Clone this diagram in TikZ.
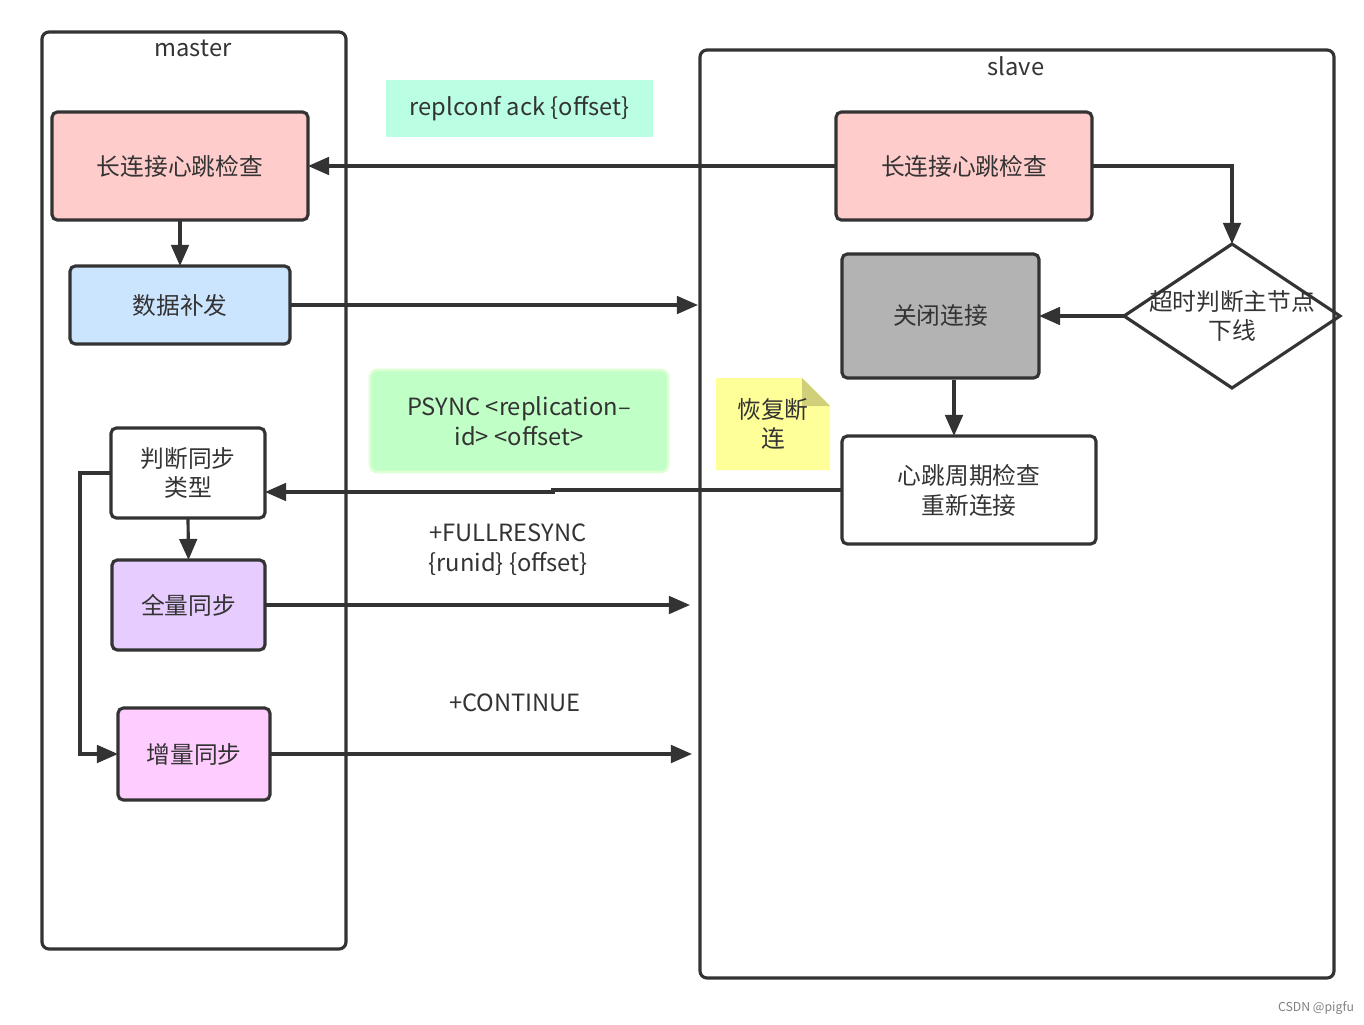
\documentclass[tikz,border=0pt]{standalone}
\usepackage{fontspec}
\setmainfont{Noto Sans CJK SC}
\usetikzlibrary{arrows.meta,shapes.geometric}
\definecolor{linegray}{HTML}{333333}
\definecolor{pinkfill}{HTML}{FFCCCC}
\definecolor{bluefill}{HTML}{CCE5FF}
\definecolor{violetfill}{HTML}{E7CCFF}
\definecolor{magentafill}{HTML}{FFCCFF}
\definecolor{grayfill}{HTML}{B3B3B3}
\definecolor{mintfill}{HTML}{BAFFE3}
\definecolor{greenfill}{HTML}{C0FFC6}
\definecolor{greenline}{HTML}{DDFFD4}
\definecolor{noteyellow}{HTML}{FFFF99}
\definecolor{notefold}{HTML}{D0D07A}

\begin{document}
\begin{tikzpicture}[x=0.02cm,y=-0.02cm,font=\fontsize{13.5}{17}\selectfont,text=linegray,
  box/.style={draw=linegray,line width=1.8pt,rounded corners=3pt,align=center,inner sep=0pt,outer sep=0pt},
  frame/.style={draw=linegray,line width=1.8pt,rounded corners=4pt},
  flow/.style={draw=linegray,line width=1.8pt,-{Triangle[length=12pt,width=10pt]}},
  tag/.style={align=center,inner sep=0pt}]

\useasboundingbox (0,0) rectangle (1364,1024);

% master side
\draw[frame] (42,32) rectangle (346,949);
\node[tag] (mname) at (193,48) {master};
\node[box,fill=pinkfill,minimum width=5.12cm,minimum height=2.16cm] (mhb) at (180,166) {长连接心跳检查};
\node[box,fill=bluefill,minimum width=4.4cm,minimum height=1.56cm] (refill) at (180,305) {数据补发};
\node[box,fill=white,minimum width=3.08cm,minimum height=1.8cm] (judge) at (188,473) {判断同步\\类型};
\node[box,fill=violetfill,minimum width=3.06cm,minimum height=1.8cm] (full) at (188.5,605) {全量同步};
\node[box,fill=magentafill,minimum width=3.04cm,minimum height=1.84cm] (incr) at (194,754) {增量同步};

% slave side
\draw[frame] (700,50) rectangle (1334,978);
\node[tag] (sname) at (1016,66) {slave};
\node[box,fill=pinkfill,minimum width=5.12cm,minimum height=2.16cm] (shb) at (964,166) {长连接心跳检查};
\node[box,fill=grayfill,minimum width=3.94cm,minimum height=2.48cm] (close) at (940.5,316) {关闭连接};
\node[draw=linegray,line width=1.8pt,diamond,inner sep=0pt,outer sep=0pt,
  minimum width=4.32cm,minimum height=2.88cm] (dia) at (1232,316) {};
\node[tag] (diatext) at (1232,316) {超时判断主节点\\下线};
\node[box,fill=white,minimum width=5.08cm,minimum height=2.16cm] (recon) at (969,490) {心跳周期检查\\重新连接};

% note
\fill[noteyellow] (716,378) -- (802,378) -- (830,406) -- (830,470) -- (716,470) -- cycle;
\fill[notefold] (802,378) -- (830,406) -- (802,406) -- cycle;
\node[tag] (note) at (773,424) {恢复断\\连};

% message labels
\node[tag,fill=mintfill,minimum width=5.34cm,minimum height=1.14cm] (ack) at (519.5,108.5) {replconf ack \{offset\}};
\node[tag,fill=greenfill,draw=greenline,line width=1.5pt,rounded corners=4pt,
  minimum width=5.96cm,minimum height=2.04cm] (psync) at (519,421) {PSYNC <replication–\\id> <offset>};
\node[tag] (fullmsg) at (508,550) {+FULLRESYNC\\\{runid\} \{offset\}};
\node[tag] (contmsg) at (515,703) {+CONTINUE};

% connectors
\coordinate (s1) at (698,305);
\coordinate (s2) at (690,604);
\coordinate (s3) at (692,754);
\coordinate (c1) at (954,380);
\coordinate (j1) at (553,490);
\draw[flow] (shb.west) -- (mhb.east);
\draw[flow] (mhb.south) -- (refill.north);
\draw[flow] (refill.east) -- (refill.east -| s1);
\draw[flow] (shb.east) -| (dia.north);
\draw[flow] (dia.west) -- (close.east);
\draw[flow] (c1) -- (c1 |- recon.north);
\draw[flow] (recon.west) -- (j1) -- ++(0,2) -- (judge.east |- 0,492);
\draw[flow] (judge.south) -- (full.north);
\draw[flow] (judge.west) -- (80,473) |- (incr.west);
\draw[flow] (full.east) -- (full.east -| s2);
\draw[flow] (incr.east) -- (s3);

\node[tag,font=\fontsize{7}{8}\selectfont,text=gray] (mark) at (1316,1008) {CSDN @pigfu};
\end{tikzpicture}
\end{document}
